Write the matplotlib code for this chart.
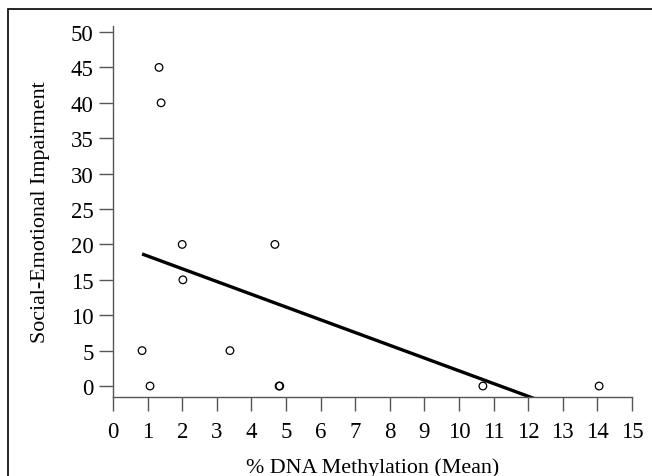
import matplotlib.pyplot as plt
import numpy as np
from matplotlib.patches import Rectangle

plt.rcParams["font.family"] = ["Liberation Serif", "DejaVu Serif"]

methylation = [1.33, 1.39, 2.00, 2.02, 4.68, 0.84, 1.07, 3.38, 4.80, 4.82, 10.69, 14.05]
impairment = [45, 40, 20, 15, 20, 5, 0, 5, 0, 0, 0, 0]
x_ticks = list(range(0, 16))
y_ticks = list(range(0, 51, 5))

W, H = 652, 477
fig = plt.figure(figsize=(W / 100, H / 100), dpi=100)
ax = fig.add_axes([113 / W, 1 - 398 / H, (632 - 113) / W, (398 - 27) / H])

ax.scatter(methylation, impairment, s=30, facecolors="none", edgecolors="black", linewidths=0.9, zorder=3)

slope, intercept = np.polyfit(methylation, impairment, 1)
xs = np.array([min(methylation), max(methylation)])
ax.plot(xs, slope * xs + intercept, color="black", lw=2.4, solid_capstyle="butt")

ax.set_xlim(0, 15)
ax.set_ylim(-1.55, 50.85)
ax.set_xticks(x_ticks)
ax.set_yticks(y_ticks)
for side in ("top", "right"):
    ax.spines[side].set_visible(False)
for side in ("left", "bottom"):
    ax.spines[side].set_color("#555555")
    ax.spines[side].set_linewidth(1.0)
ax.tick_params(axis="both", length=10, width=1.0, color="#555555", labelsize=16.5, pad=4)
ax.tick_params(axis="x", pad=7.5)

ax.set_xlabel("% DNA Methylation (Mean)", fontsize=15.8, labelpad=11)
ax.set_ylabel("Social-Emotional Impairment", fontsize=15.8, labelpad=15)

# outer frame, cut off at the right and bottom edges
fig.patches.append(Rectangle((8 / W, -0.1), 1.2, 1 - 10 / H + 0.1, transform=fig.transFigure,
                             fill=False, edgecolor="black", lw=1.2, clip_on=False))

fig.savefig("out.png", dpi=100)
